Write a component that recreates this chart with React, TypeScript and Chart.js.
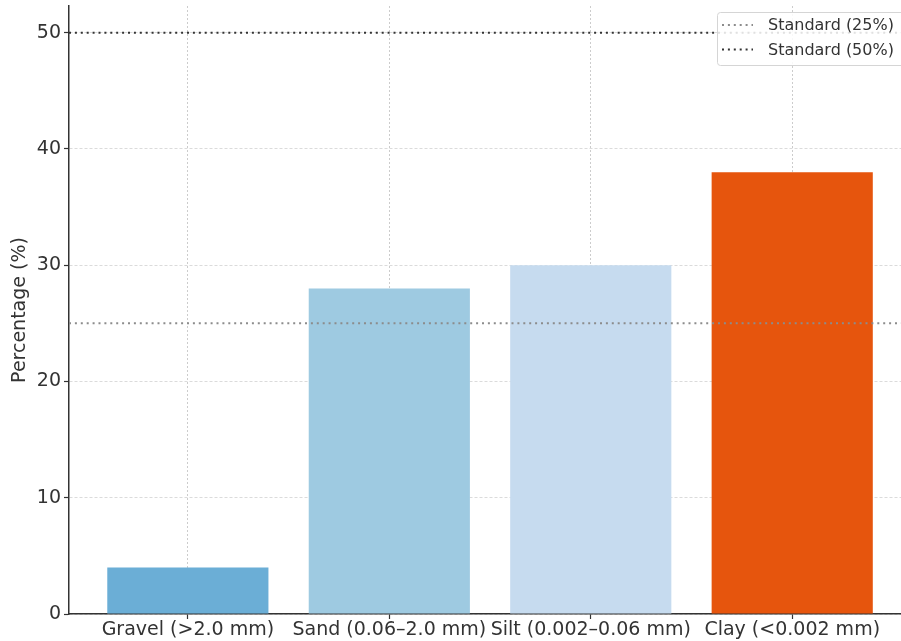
import React, { useEffect, useRef } from 'react';
import { Chart, registerables } from 'chart.js';

Chart.register(...registerables);

const categories = ['Gravel (>2.0 mm)', 'Sand (0.06–2.0 mm)', 'Silt (0.002–0.06 mm)', 'Clay (<0.002 mm)'];
const percentages = [4, 28, 30, 38];
const barColors = ['#6baed6', '#9ecae1', '#c6dbef', '#e6550d'];
const standardLabels = ['Standard (25%)', 'Standard (50%)'];
const standardValues = [25, 50];
const standardColors = ['#8c8c8c', '#333333'];
const yTickValues = [0, 10, 20, 30, 40, 50];
const X_MIN = -0.59;
const X_MAX = 3.54;
const Y_MIN = 0;
const Y_MAX = 52.3;

const FONT = '"DejaVu Sans", sans-serif';
const TEXT = '#333333';

const legendPlugin = {
  id: 'boxLegend',
  afterDraw(chart: any) {
    const ctx = chart.ctx;
    const sets = chart.data.datasets.filter((d: any) => d.type === 'line');
    const left = 717;
    const top = 12;
    const w = 200;
    const h = 53;
    ctx.save();
    ctx.fillStyle = 'rgba(255,255,255,0.85)';
    ctx.strokeStyle = '#d5d5d5';
    ctx.lineWidth = 1;
    ctx.beginPath();
    if (ctx.roundRect) ctx.roundRect(left + 0.5, top + 0.5, w, h, 3);
    else ctx.rect(left + 0.5, top + 0.5, w, h);
    ctx.fill();
    ctx.stroke();
    sets.forEach((ds: any, i: number) => {
      const y = 25 + i * 24.5;
      ctx.setLineDash(ds.borderDash || []);
      ctx.strokeStyle = ds.borderColor;
      ctx.lineWidth = ds.borderWidth;
      ctx.beginPath();
      ctx.moveTo(722, y);
      ctx.lineTo(753, y);
      ctx.stroke();
      ctx.setLineDash([]);
      ctx.fillStyle = TEXT;
      ctx.font = `16px ${FONT}`;
      ctx.textBaseline = 'middle';
      ctx.textAlign = 'left';
      ctx.fillText(ds.label, 768, y + 1);
    });
    ctx.restore();
  },
};

export default function App() {
  const ref = useRef<HTMLCanvasElement | null>(null);

  useEffect(() => {
    if (!ref.current) return;
    const barData = percentages.map((v, i) => ({ x: i, y: v }));
    const lineSets = standardValues.map((v, i) => ({
      type: 'line' as const,
      label: standardLabels[i],
      data: [
        { x: X_MIN, y: v },
        { x: X_MAX, y: v },
      ],
      borderColor: standardColors[i],
      borderWidth: 2,
      borderDash: [2, 3.9],
      pointRadius: 0,
      fill: false,
      order: 0,
    }));

    const chart = new Chart(ref.current, {
      type: 'bar',
      data: {
        datasets: [
          {
            type: 'bar' as const,
            label: 'Percentage',
            data: barData as any,
            backgroundColor: barColors,
            borderWidth: 0,
            categoryPercentage: 0.8,
            barPercentage: 1.0,
            order: 1,
          },
          ...(lineSets as any[]),
        ],
      },
      options: {
        responsive: false,
        animation: false,
        devicePixelRatio: 1,
        layout: { padding: { top: 6, left: 0, right: 0, bottom: 0 } },
        plugins: {
          legend: { display: false },
          tooltip: { enabled: false },
        },
        scales: {
          x: {
            type: 'linear',
            min: X_MIN,
            max: X_MAX,
            offset: false,
            z: 1,
            afterBuildTicks: (scale: any) => {
              scale.ticks = categories.map((_, i) => ({ value: i }));
            },
            afterFit: (scale: any) => {
              scale.height = 27;
              scale.paddingLeft = 0;
              scale.paddingRight = 0;
            },
            ticks: {
              autoSkip: false,
              maxRotation: 0,
              minRotation: 0,
              padding: 0,
              color: TEXT,
              font: { family: FONT, size: 19 },
              callback: (v: any) => categories[Math.round(Number(v))] ?? '',
            },
            grid: {
              offset: false,
              color: 'rgba(0,0,0,0.2)',
              lineWidth: 1,
              drawTicks: true,
              tickLength: 5,
              tickColor: '#333333',
              tickWidth: 1.2,
              tickBorderDash: [],
            },
            border: { display: true, color: '#333333', width: 1.5, dash: [2, 2] },
          },
          y: {
            type: 'linear',
            min: Y_MIN,
            max: Y_MAX,
            z: 1,
            afterBuildTicks: (scale: any) => {
              scale.ticks = yTickValues.map((v) => ({ value: v }));
            },
            afterFit: (scale: any) => {
              scale.width = 69;
              scale.paddingTop = 0;
              scale.paddingBottom = 0;
            },
            ticks: {
              padding: 3,
              color: TEXT,
              font: { family: FONT, size: 19 },
              callback: (v: any) => String(v),
            },
            grid: {
              color: 'rgba(0,0,0,0.14)',
              lineWidth: 1,
              drawTicks: true,
              tickLength: 5,
              tickColor: '#333333',
              tickWidth: 1.2,
              tickBorderDash: [],
            },
            border: { display: true, color: '#333333', width: 1.5, dash: [3, 2] },
            title: {
              display: true,
              text: 'Percentage (%)',
              color: TEXT,
              font: { family: FONT, size: 19 },
              padding: { top: 9, bottom: 0 },
            },
          },
        },
      },
      plugins: [legendPlugin],
    });

    return () => chart.destroy();
  }, []);

  return (
    <div style={{ position: 'fixed', left: 0, top: 0, width: 901, height: 641, background: '#fff' }}>
      <canvas ref={ref} width={901} height={641} style={{ display: 'block', width: 901, height: 641 }} />
    </div>
  );
}
